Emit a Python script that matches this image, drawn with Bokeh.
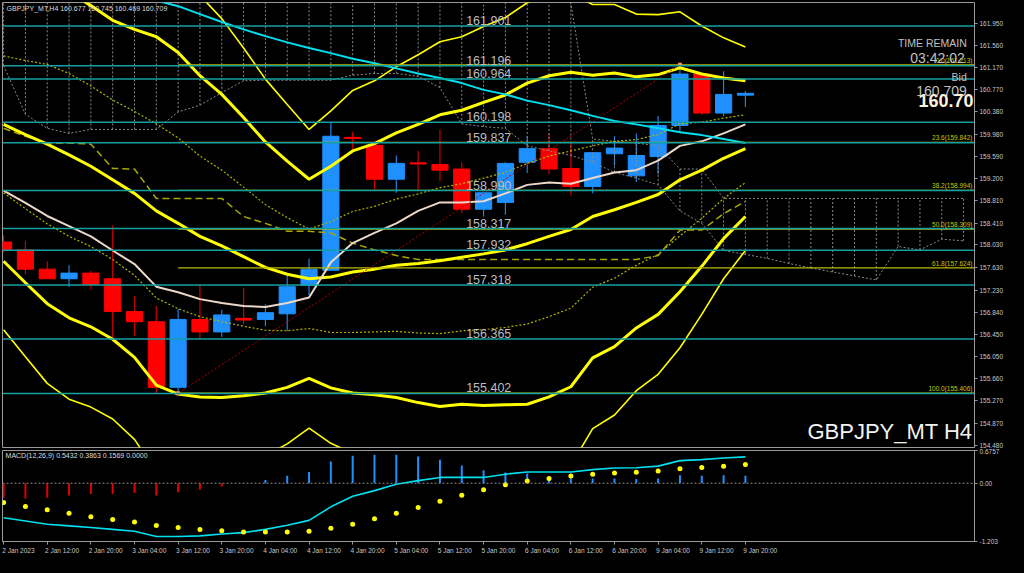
from bokeh.plotting import figure
from bokeh.layouts import column
from bokeh.models import (Range1d, LinearAxis, FixedTicker, PrintfTickFormatter,
                          Span, Label, ColumnDataSource)
from bokeh.embed import file_html
from bokeh.resources import INLINE

# ---------------- data ----------------
symbol_title = "GBPJPY_MT,H4  160.677 160.745 160.469 160.709"
macd_title = "MACD(12,26,9) 0.5432 0.3863 0.1569 0.0000"
watermark = "GBPJPY_MT H4"
timer_text = "03:42:02"
bid_price = 160.709
bid_big_text = "160.70"

time_tick_bars = [0, 2, 4, 6, 8, 10, 12, 14, 16, 18, 20, 22, 24, 26, 28, 30, 32, 34]
time_tick_labels = ["2 Jan 2023", "2 Jan 12:00", "2 Jan 20:00", "3 Jan 04:00", "3 Jan 12:00",
                    "3 Jan 20:00", "4 Jan 04:00", "4 Jan 12:00", "4 Jan 20:00", "5 Jan 04:00",
                    "5 Jan 12:00", "5 Jan 20:00", "6 Jan 04:00", "6 Jan 12:00", "6 Jan 20:00",
                    "9 Jan 04:00", "9 Jan 12:00", "9 Jan 20:00"]

price_ticks = [161.950, 161.560, 161.170, 160.770, 160.380, 159.980, 159.590, 159.200,
               158.810, 158.410, 158.030, 157.630, 157.230, 156.840, 156.450, 156.050,
               155.660, 155.270, 154.870, 154.480]

opens = [158.08, 157.94, 157.60, 157.43, 157.53, 157.43, 156.85, 156.67, 155.51, 156.71,
         156.49, 156.73, 156.71, 156.81, 157.31, 157.58, 159.93, 159.79, 159.19, 159.48,
         159.45, 159.37, 158.66, 158.78, 159.49, 159.73, 159.38, 159.06, 159.64, 159.25,
         159.59, 160.14, 161.05, 160.36, 160.677]
highs = [158.20, 158.10, 157.74, 157.67, 157.57, 158.37, 157.12, 156.95, 156.90, 157.33,
         156.88, 157.27, 156.98, 157.48, 157.79, 160.19, 160.03, 159.80, 159.61, 159.69,
         160.07, 159.49, 158.97, 159.49, 159.95, 160.00, 159.83, 159.66, 159.95, 160.00,
         160.31, 161.213, 161.06, 161.10, 160.745]
lows = [157.90, 157.51, 157.42, 157.29, 157.24, 156.38, 156.42, 155.40, 155.406, 156.38,
        156.40, 156.62, 156.59, 156.50, 157.14, 157.58, 159.69, 159.01, 158.95, 159.01,
        159.16, 158.59, 158.53, 158.56, 159.30, 159.28, 158.90, 158.94, 159.43, 159.14,
        159.28, 160.02, 160.33, 160.31, 160.469]
closes = [157.94, 157.60, 157.43, 157.53, 157.33, 156.85, 156.67, 155.51, 156.71, 156.49,
          156.79, 156.70, 156.83, 157.29, 157.60, 159.95, 159.91, 159.19, 159.47, 159.46,
          159.35, 158.66, 158.95, 159.47, 159.73, 159.37, 159.06, 159.66, 159.74, 159.61,
          160.14, 161.05, 160.36, 160.69, 160.709]

# Bollinger band centre and standard deviation (price units)
bb_mid = [160.16, 159.98, 159.81, 159.62, 159.42, 159.18, 158.94, 158.63, 158.41, 158.18,
          158.01, 157.82, 157.63, 157.51, 157.43, 157.46, 157.55, 157.60, 157.67, 157.70,
          157.75, 157.81, 157.87, 157.94, 158.05, 158.18, 158.30, 158.53, 158.65, 158.78,
          158.92, 159.18, 159.35, 159.56, 159.73]
bb_sd = [1.21, 1.31, 1.41, 1.44, 1.42, 1.41, 1.45, 1.54, 1.51, 1.42,
         1.34, 1.23, 1.11, 1.00, 0.88, 0.98, 1.07, 1.11, 1.17, 1.23,
         1.29, 1.30, 1.34, 1.37, 1.42, 1.42, 1.39, 1.25, 1.21, 1.11,
         1.06, 0.99, 0.85, 0.71, 0.60]

ma_fast = [158.99, 158.77, 158.54, 158.36, 158.18, 157.93, 157.69, 157.29, 157.19, 157.07,
           157.00, 156.95, 156.93, 157.00, 157.10, 157.72, 158.06, 158.24, 158.41, 158.63,
           158.78, 158.78, 158.80, 158.94, 159.09, 159.13, 159.11, 159.21, 159.31, 159.35,
           159.52, 159.78, 159.86, 160.00, 160.16]

ma_slow_first_bar = 6
ma_slow = [162.47, 162.35, 162.25, 162.11, 161.97, 161.84, 161.72, 161.61, 161.51, 161.42,
           161.32, 161.24, 161.15, 161.06, 160.98, 160.89, 160.77, 160.69, 160.58, 160.50,
           160.41, 160.31, 160.22, 160.16, 160.09, 160.02, 159.97, 159.90, 159.83]

kijun = [160.09, 159.95, 159.83, 159.83, 159.81, 159.38, 159.37, 158.85, 158.85, 158.85,
         158.85, 158.53, 158.41, 158.27, 158.27, 158.24, 158.06, 157.94, 157.84, 157.77,
         157.77, 157.77, 157.77, 157.77, 157.77, 157.77, 157.77, 157.77, 157.77, 157.77,
         157.84, 158.29, 158.29, 158.58, 158.80]

cloud_lo = [161.20, 160.34, 160.09, 160.00, 160.07, 160.07, 160.07, 160.07, 160.38, 160.50,
            160.72, 160.93, 160.94, 160.94, 160.94, 160.94, 161.03, 161.06, 161.06, 161.01,
            160.81, 160.17, 160.12, 160.09, 159.78, 159.69, 159.61, 159.49, 159.31, 159.21,
            159.09, 158.63, 158.41, 157.93, 157.86, 157.79, 157.70, 157.62, 157.55, 157.48,
            157.41, 158.00, 157.94, 158.13, 158.10]
cloud_hi = [162.60, 162.60, 162.60, 162.60, 162.60, 162.60, 162.60, 162.60, 162.60, 162.60,
            162.60, 162.60, 162.60, 162.60, 162.60, 162.60, 162.60, 162.60, 162.60, 162.60,
            162.60, 162.60, 162.60, 162.60, 162.60, 162.60, 162.30, 159.90, 159.86, 159.83,
            159.78, 159.37, 159.37, 158.85, 158.85, 158.85, 158.85, 158.85, 158.85, 158.85,
            158.85, 158.85, 158.85, 158.85, 158.85]

levels = [161.901, 161.196, 160.964, 160.198, 159.837, 158.990, 158.317,
          157.932, 157.318, 156.365, 155.402]
level_label_bar = 21.2

fib_ratios = ["0.0", "23.6", "38.2", "50.0", "61.8", "100.0"]
fib_prices = [161.213, 159.842, 158.994, 158.309, 157.624, 155.406]
fib_low_bar = 8
fib_high_bar = 31

macd_main = [-0.713, -0.780, -0.847, -0.880, -0.913, -0.953, -0.993, -1.100, -1.100, -1.087,
             -1.047, -1.020, -0.953, -0.867, -0.767, -0.487, -0.267, -0.153, -0.020, 0.053,
             0.120, 0.120, 0.120, 0.187, 0.233, 0.233, 0.233, 0.280, 0.313, 0.320,
             0.353, 0.467, 0.487, 0.520, 0.5432]
macd_signal = [-0.400, -0.480, -0.547, -0.620, -0.693, -0.747, -0.800, -0.873, -0.913, -0.953,
               -0.980, -1.007, -1.007, -1.007, -0.993, -0.927, -0.847, -0.733, -0.620, -0.500,
               -0.373, -0.247, -0.133, -0.033, 0.047, 0.100, 0.147, 0.187, 0.213, 0.227,
               0.253, 0.300, 0.327, 0.353, 0.3863]
macd_hist = [-0.300, -0.313, -0.300, -0.253, -0.220, -0.220, -0.200, -0.253, -0.187, -0.133,
             -0.067, -0.010, 0.067, 0.153, 0.233, 0.447, 0.567, 0.587, 0.587, 0.553,
             0.487, 0.367, 0.267, 0.220, 0.200, 0.133, 0.100, 0.100, 0.100, 0.087,
             0.100, 0.167, 0.153, 0.167, 0.1569]
macd_ticks = [0.6757, 0.0, -1.203]
macd_tick_text = ["0.6757", "0.00", "-1.203"]

# ---------------- layout helpers ----------------
FONT = "Liberation Sans"
BG = "#000000"
FG = "#c8c8c8"
X_START, X_END = -0.05, 44.5
Y_LO, Y_HI = 154.446, 162.315


def bx(rx):
    # horizontal screen position of the original picture -> bar units
    return (rx - 2.0) / 22.2


def py(ry):
    # vertical screen position of the original picture -> price units
    return 154.48 + (459.0 - ry) / 58.33


def lab(fig, x, y, text, size, color=FG, align="left", baseline="middle", style="normal", **kw):
    fig.add_layout(Label(x=x, y=y, text=text, text_font=FONT, text_font_size=size,
                         text_color=color, text_align=align, text_baseline=baseline,
                         text_font_style=style, **kw))


# ---------------- main price chart ----------------
p = figure(width=1008, height=448, output_backend="svg", toolbar_location=None,
           x_range=Range1d(X_START, X_END), y_range=Range1d(Y_LO, Y_HI),
           x_axis_location=None, y_axis_location=None,
           background_fill_color=BG, border_fill_color=BG,
           min_border_left=2, min_border_right=34, min_border_top=2, min_border_bottom=1)
p.grid.visible = False
p.outline_line_color = "#9a9a9a"

yax = LinearAxis(ticker=FixedTicker(ticks=price_ticks), formatter=PrintfTickFormatter(format="%.3f"),
                 axis_line_color="#9a9a9a", major_tick_line_color="#9a9a9a",
                 major_tick_out=3, major_tick_in=0, minor_tick_line_color=None,
                 major_label_standoff=2, major_label_text_font=FONT,
                 major_label_text_font_size="6.5px", major_label_text_color=FG)
p.add_layout(yax, "right")

n = len(opens)
idx = list(range(n))
bull = [c >= o for o, c in zip(opens, closes)]
csrc = ColumnDataSource(dict(
    x=idx, h=highs, l=lows,
    top=[max(o, c) for o, c in zip(opens, closes)],
    bottom=[min(o, c) for o, c in zip(opens, closes)],
    body=["#1e90ff" if b else "#ff0000" for b in bull],
    wick=["#1e80e0" if b else "#c80000" for b in bull]))
p.segment(x0="x", y0="h", x1="x", y1="l", line_color="wick", line_width=1.2, source=csrc)
p.vbar(x="x", top="top", bottom="bottom", width=0.74, fill_color="body",
       line_color="body", line_width=1, source=csrc)

# Ichimoku cloud (dotted outline with vertical hatches)
nc = len(cloud_lo)
cidx = list(range(nc))
p.segment(x0=cidx, y0=cloud_lo, x1=cidx, y1=cloud_hi, line_color="#8a8a8a",
          line_width=1, line_dash="2 2")
p.line(cidx, cloud_lo, line_color="#8a8a8a", line_width=1, line_dash="2 2")
p.line(cidx, cloud_hi, line_color="#8a8a8a", line_width=1, line_dash="2 2")
p.line(idx, kijun, line_color="#a8a800", line_width=1.5, line_dash="7 4")

# Bollinger bands
for k, width, dash, col in [(1, 1.2, "2 2", "#b4b400"), (2, 3, "solid", "#ffff00"),
                            (3, 1.6, "solid", "#ffff00")]:
    up = [mm + k * s for mm, s in zip(bb_mid, bb_sd)]
    dn = [mm - k * s for mm, s in zip(bb_mid, bb_sd)]
    p.line(idx, up, line_color=col, line_width=width, line_dash=dash)
    p.line(idx, dn, line_color=col, line_width=width, line_dash=dash)
p.line(idx, bb_mid, line_color="#ffff00", line_width=3)

# moving averages
p.line(idx, ma_fast, line_color="#ecd8c8", line_width=2)
p.line(list(range(ma_slow_first_bar, ma_slow_first_bar + len(ma_slow))), ma_slow,
       line_color="#00e0f0", line_width=2)

# horizontal levels
for lv in levels:
    p.add_layout(Span(location=lv, dimension="width", line_color="#14a0a0", line_width=1.5))
    lab(p, level_label_bar, lv, f"{lv:.3f}", "12.5px", color="#bdbdbd",
        baseline="bottom", y_offset=1)
    lab(p, X_END, lv, f"{lv:.3f}", "6.5px", color="#000000", x_offset=1,
        background_fill_color="#00ffff", padding=1)

# fibonacci retracement
p.segment(x0=[fib_low_bar] * len(fib_prices), y0=fib_prices,
          x1=[X_END] * len(fib_prices), y1=fib_prices, line_color="#b8b800", line_width=1.2)
for r, fp in zip(fib_ratios, fib_prices):
    lab(p, X_END, fp, f"{r}({fp:.3f})", "6.5px", color="#c8c800", align="right",
        baseline="bottom", x_offset=-2, y_offset=1)
p.line([fib_low_bar, fib_high_bar], [fib_prices[-1], fib_prices[0]], line_color="#b00000",
       line_width=1, line_dash="2 2")
p.scatter([fib_low_bar, fib_high_bar], [fib_prices[-1], fib_prices[0]], marker="square",
          size=4, fill_color="#ff9050", line_color=None)

# bid tag on axis
lab(p, X_END, bid_price, f"{bid_price:.3f}", "6.5px", color="#000000", x_offset=1,
    background_fill_color="#ffffff", padding=1)

# texts
lab(p, bx(5), py(8), symbol_title, "7px", color="#dcdcdc")
lab(p, bx(982), py(44), "TIME REMAIN", "10.5px", color="#c0c0c0", align="right")
lab(p, bx(980), py(59), timer_text, "14px", color="#c0c0c0", align="right")
lab(p, bx(982), py(79), "Bid", "10.5px", color="#c0c0c0", align="right")
lab(p, bx(982), py(93), f"{bid_price:.3f}", "14px", color="#c0c0c0", align="right")
lab(p, X_END, py(103), bid_big_text, "18px", color="#fff0dc", align="right",
    style="bold", x_offset=-1)
lab(p, X_END, py(444), watermark, "22px", color="#f2f2f2", align="right", x_offset=-2)

# ---------------- MACD panel ----------------
m = figure(width=1008, height=109, output_backend="svg", toolbar_location=None,
           x_range=p.x_range, y_range=Range1d(-1.203, 0.6757),
           x_axis_location=None, y_axis_location=None,
           background_fill_color=BG, border_fill_color=BG,
           min_border_left=2, min_border_right=34, min_border_top=2, min_border_bottom=16)
m.grid.visible = False
m.outline_line_color = "#9a9a9a"

max_ = LinearAxis(ticker=FixedTicker(ticks=macd_ticks),
                  major_label_overrides={t: s for t, s in zip(macd_ticks, macd_tick_text)},
                  axis_line_color="#9a9a9a", major_tick_line_color="#9a9a9a",
                  major_tick_out=3, major_tick_in=0, minor_tick_line_color=None,
                  major_label_standoff=2, major_label_text_font=FONT,
                  major_label_text_font_size="6.5px", major_label_text_color=FG)
m.add_layout(max_, "right")

# time axis: tick marks at the bars (minor ticks), labels starting at each tick
label_shift = 0.68
label_pos = [b + label_shift for b in time_tick_bars]
time_ax = LinearAxis(ticker=FixedTicker(ticks=label_pos, minor_ticks=time_tick_bars),
                     major_label_overrides={t: s for t, s in zip(label_pos, time_tick_labels)},
                     axis_line_color="#9a9a9a", major_tick_line_color=None,
                     major_tick_out=3, major_tick_in=0,
                     minor_tick_line_color="#9a9a9a", minor_tick_out=3, minor_tick_in=0,
                     major_label_standoff=2, major_label_text_font=FONT,
                     major_label_text_font_size="6.5px", major_label_text_color=FG)
m.add_layout(time_ax, "below")

m.add_layout(Span(location=0, dimension="width", line_color="#8a8a8a", line_width=1,
                  line_dash="2 2"))
m.segment(x0=idx, y0=[0] * n, x1=idx, y1=macd_hist,
          line_color=["#1e90ff" if v >= 0 else "#e00000" for v in macd_hist], line_width=2)
m.line(idx, macd_main, line_color="#00e0f0", line_width=1.6)
m.scatter(idx, macd_signal, size=5, fill_color="#ffff00", line_color=None)
lab(m, bx(4), 0.6757 - 5 / 50.0, macd_title, "7px", color="#dcdcdc")

layout = column(p, m, spacing=0)
try:
    from bokeh.models import GlobalInlineStyleSheet
    layout.stylesheets = [GlobalInlineStyleSheet(css="html, body { background-color: #000000; }")]
except Exception:
    pass

open("out.html", "w").write(file_html(layout, INLINE))
